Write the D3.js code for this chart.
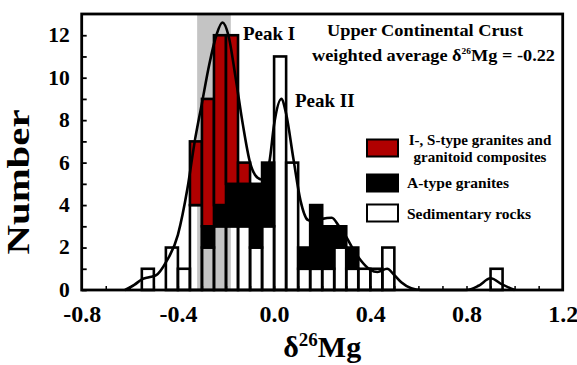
<!DOCTYPE html>
<html>
<head>
<meta charset="utf-8">
<script src="https://cdn.jsdelivr.net/npm/d3@7"></script>
<style>
  body { margin: 0; background: #fff; }
  text { font-family: "Liberation Serif", "Times New Roman", serif; font-weight: bold; }
</style>
</head>
<body>
<div id="chart"></div>
<script>
// Histogram bins (lower edge, width 0.05) and counts per rock group
const binLow = [-0.55, -0.45, -0.40, -0.35, -0.30, -0.25, -0.20, -0.15, -0.10, -0.05,
                0.00, 0.05, 0.10, 0.15, 0.20, 0.25, 0.30, 0.35, 0.40, 0.45, 0.90];
const sedimentary = [1, 2, 1, 4, 2, 3, 3, 3, 2, 3, 11, 6, 1, 1, 1, 2, 1, 1, 1, 2, 1];
const aType       = [0, 0, 0, 0, 1, 1, 2, 2, 3, 3, 0, 0, 1, 3, 2, 1, 1, 0, 0, 0, 0];
const isType      = [0, 0, 0, 3, 6, 8, 7, 1, 0, 0, 0, 0, 0, 0, 0, 0, 0, 0, 0, 0, 0];
const binWidth = 0.05;

// Smoothed distribution curve
const curveX = [-0.62, -0.58, -0.55, -0.52, -0.49, -0.45, -0.40, -0.36, -0.33, -0.30, -0.27,
                -0.24, -0.215, -0.19, -0.16, -0.13, -0.10, -0.07, -0.05, -0.02, 0.00, 0.03,
                0.05, 0.08, 0.11, 0.14, 0.17, 0.20, 0.24, 0.27, 0.30, 0.33, 0.36, 0.40, 0.43,
                0.47, 0.50, 0.53, 0.57, 0.61, 0.80, 0.85, 0.90, 0.95, 1.00];
const curveY = [0, 0.25, 0.5, 0.6, 0.7, 1.3, 2.6, 4.8, 7.0, 8.8, 10.6,
                12.0, 12.6, 12.0, 10.0, 7.8, 6.0, 5.3, 5.2, 6.0, 7.8, 9.0,
                8.3, 6.2, 4.2, 3.3, 3.2, 3.35, 3.4, 3.0, 2.5, 1.9, 1.4, 0.95, 0.85,
                1.0, 0.7, 0.35, 0.08, 0, 0, 0.2, 0.55, 0.25, 0];

const xTicks = [-0.8, -0.4, 0.0, 0.4, 0.8, 1.2];
const yTicks = [0, 2, 4, 6, 8, 10, 12];
const band = [-0.32, -0.18];   // grey band around the UCC average

const width = 577, height = 365;
const margin = { top: 14, right: 14.3, bottom: 75, left: 81.7 };

const svg = d3.select("#chart").append("svg")
    .attr("width", width)
    .attr("height", height);

const x = d3.scaleLinear().domain([-0.8, 1.2]).range([margin.left, width - margin.right]);
const y = d3.scaleLinear().domain([0, 13]).range([height - margin.bottom, margin.top]);

// grey band
svg.append("rect")
    .attr("x", x(band[0]))
    .attr("y", y(13))
    .attr("width", x(band[1]) - x(band[0]))
    .attr("height", y(0) - y(13))
    .attr("fill", "#c4c4c4");

// stacked bars
const table = binLow.map((b, i) => ({ x0: b, sed: sedimentary[i], a: aType[i], is: isType[i] }));
const keys = ["sed", "a", "is"];
const fills = { sed: "none", a: "#000", is: "#b00000" };
const stacked = d3.stack().keys(keys)(table);

svg.append("g").selectAll("g")
    .data(stacked)
    .enter().append("g")
    .attr("fill", d => fills[d.key])
    .selectAll("rect")
    .data(d => d.filter(s => s[1] > s[0]))
    .enter().append("rect")
    .attr("x", d => x(d.data.x0))
    .attr("y", d => y(d[1]))
    .attr("width", x(binWidth) - x(0))
    .attr("height", d => y(d[0]) - y(d[1]))
    .attr("stroke", "#000")
    .attr("stroke-width", 2.6);

// curve
const line = d3.line()
    .x((d, i) => x(curveX[i]))
    .y(d => y(d))
    .curve(d3.curveMonotoneX);

svg.append("path")
    .datum(curveY)
    .attr("d", line)
    .attr("fill", "none")
    .attr("stroke", "#000")
    .attr("stroke-width", 2.6);

// axes with inward ticks
const xAxis = svg.append("g")
    .attr("transform", `translate(0,${y(0)})`)
    .call(d3.axisBottom(x).tickValues(d3.range(-0.8, 1.21, 0.1)).tickSizeInner(-4).tickSizeOuter(0).tickFormat(""));
xAxis.select(".domain").remove();
xAxis.selectAll("line").attr("stroke-width", 1.5);

const xLab = svg.append("g")
    .attr("transform", `translate(0,${y(0)})`)
    .call(d3.axisBottom(x).tickValues(xTicks).tickSize(0).tickPadding(15));
xLab.select(".domain").remove();
xLab.selectAll("text").attr("font-size", 24).attr("fill", "#000")
    .style("font-family", "'Liberation Serif', serif").style("font-weight", "bold")
    .text(d => d3.format(".1f")(d).replace("−", "-"));

const yAxis = svg.append("g")
    .attr("transform", `translate(${margin.left},0)`)
    .call(d3.axisLeft(y).tickValues(d3.range(0, 13, 1)).tickSizeInner(-5).tickSizeOuter(0).tickFormat(""));
yAxis.select(".domain").remove();
yAxis.selectAll("line").attr("stroke-width", 1.8);

const yLab = svg.append("g")
    .attr("transform", `translate(${margin.left},0)`)
    .call(d3.axisLeft(y).tickValues(yTicks).tickSize(0).tickPadding(12));
yLab.select(".domain").remove();
yLab.selectAll("text").attr("font-size", 21.5).attr("fill", "#000").attr("dy", "0.3em")
    .style("font-family", "'Liberation Serif', serif").style("font-weight", "bold");

// frame
svg.append("rect")
    .attr("x", margin.left)
    .attr("y", margin.top)
    .attr("width", width - margin.left - margin.right)
    .attr("height", y(0) - margin.top)
    .attr("fill", "none")
    .attr("stroke", "#000")
    .attr("stroke-width", 2.8);

// axis titles
const xt = svg.append("text")
    .attr("x", (margin.left + width - margin.right) / 2)
    .attr("y", 357)
    .attr("text-anchor", "middle")
    .attr("font-size", 30);
xt.append("tspan").text("δ");
xt.append("tspan").attr("font-size", 19).attr("dy", -11).text("26");
xt.append("tspan").attr("dy", 11).text("Mg");

svg.append("text")
    .attr("transform", "translate(29,182) rotate(-90)")
    .attr("text-anchor", "middle")
    .attr("font-size", 31)
    .attr("textLength", 145)
    .attr("lengthAdjust", "spacingAndGlyphs")
    .text("Number");

// annotations
svg.append("text").attr("x", 243).attr("y", 40).attr("font-size", 19).text("Peak I");
svg.append("text").attr("x", 295).attr("y", 107).attr("font-size", 19).text("Peak II");
svg.append("text").attr("x", 327).attr("y", 36)
    .attr("font-size", 17).attr("textLength", 196).attr("lengthAdjust", "spacingAndGlyphs")
    .text("Upper Continental Crust");
const wa = svg.append("text").attr("x", 312).attr("y", 61)
    .attr("font-size", 17.5).attr("textLength", 243).attr("lengthAdjust", "spacingAndGlyphs");
wa.append("tspan").text("weighted average δ");
wa.append("tspan").attr("font-size", 9).attr("dy", -7).text("26");
wa.append("tspan").attr("dy", 7).text("Mg = -0.22");

// legend
const legend = [
    { fill: "#b00000", y: 139.5, lines: ["I-, S-type granites and", "granitoid composites"] },
    { fill: "#000", y: 174.5, lines: ["A-type granites"] },
    { fill: "#fff", y: 204.5, lines: ["Sedimentary rocks"] }
];
legend.forEach(l => {
    svg.append("rect")
        .attr("x", 367).attr("y", l.y).attr("width", 31).attr("height", 17)
        .attr("fill", l.fill).attr("stroke", "#000").attr("stroke-width", 2);
});
svg.append("text").attr("x", 480).attr("y", 145).attr("text-anchor", "middle").attr("font-size", 15)
    .text(legend[0].lines[0]);
svg.append("text").attr("x", 480).attr("y", 161.5).attr("text-anchor", "middle").attr("font-size", 15)
    .text(legend[0].lines[1]);
svg.append("text").attr("x", 407).attr("y", 187.5).attr("font-size", 15.5).text(legend[1].lines[0]);
svg.append("text").attr("x", 407).attr("y", 218.5).attr("font-size", 15.5).text(legend[2].lines[0]);
</script>
</body>
</html>
